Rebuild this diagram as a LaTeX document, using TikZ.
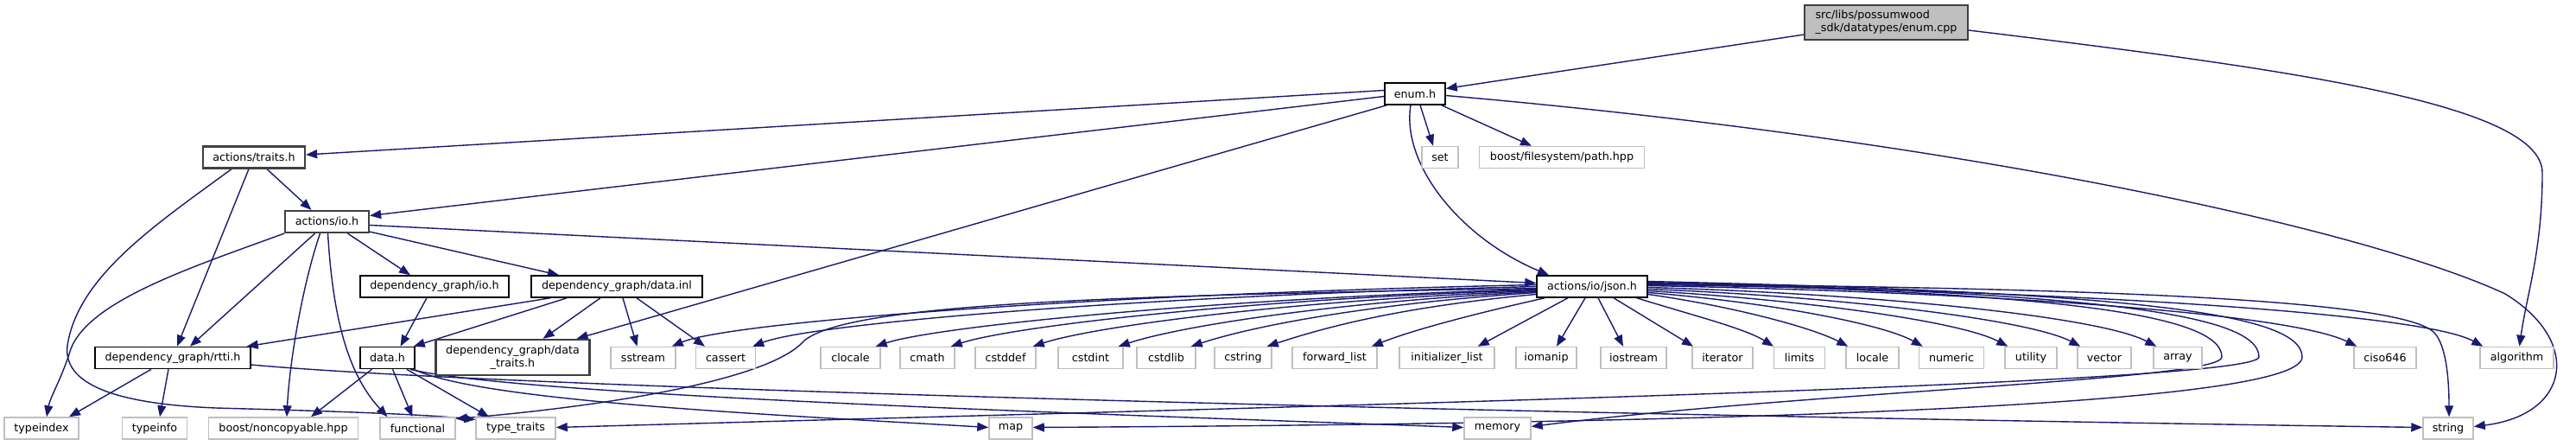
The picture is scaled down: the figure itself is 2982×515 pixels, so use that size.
\documentclass[tikz,border=0pt]{standalone}
\usepackage{fontspec}
\setmainfont{DejaVu Sans}
\usetikzlibrary{arrows.meta,calc}
\definecolor{edgecol}{HTML}{191970}
\definecolor{leafgray}{HTML}{BFBFBF}
\definecolor{rootgray}{HTML}{BFBFBF}
\definecolor{darkborder}{HTML}{404040}
\pgfdeclarelayer{bg}
\pgfsetlayers{bg,main}
\begin{document}
\begin{tikzpicture}[x=1pt,y=-1pt,
  every node/.style={font=\fontsize{12.7}{15}\selectfont, inner sep=0pt, minimum height=25pt, fill=white},
  inc/.style={draw=black, line width=1.5pt},
  incd/.style={draw=darkborder, line width=2.2pt},
  leaf/.style={draw=leafgray, line width=1.5pt},
  root/.style={draw=darkborder, fill=rootgray, line width=1.8pt, align=left, minimum height=40pt},
  edge/.style={draw=edgecol, line width=1.4pt, -{Triangle[length=13pt,width=10pt]}}]
\useasboundingbox (0,0) rectangle (2982,515);
% nodes
\node[root, minimum width=189pt] (enumcpp) at (2183.5,26) {src/libs/possumwood\\\_sdk/datatypes/enum.cpp};
\node[inc, minimum width=70pt] (enumh) at (1638,108.5) {enum.h};
\node[leaf, minimum width=42pt] (set) at (1667,182) {set};
\node[leaf, minimum width=191pt] (path) at (1808,182) {boost/filesystem/path.hpp};
\node[incd, minimum width=118pt] (traits) at (294,182) {actions/traits.h};
\node[incd, minimum width=97pt] (io) at (378.5,256.5) {actions/io.h};
\node[inc, minimum width=172pt] (dgio) at (503,331.5) {dependency\_graph/io.h};
\node[inc, minimum width=198pt] (datainl) at (714,331.5) {dependency\_graph/data.inl};
\node[inc, minimum width=128pt] (json) at (1843,331.5) {actions/io/json.h};
\node[inc, minimum width=180pt] (rtti) at (200,414) {dependency\_graph/rtti.h};
\node[inc, minimum width=63pt] (datah) at (448.5,414) {data.h};
\node[incd, minimum width=178pt, minimum height=41pt, align=center] (dtraits) at (593.5,413.5) {dependency\_graph/data\\\_traits.h};
% second row leaves
\node[leaf, minimum width=75pt] (sstream) at (744.5,414) {sstream};
\node[leaf, minimum width=69pt] (cassert) at (840,414) {cassert};
\node[leaf, minimum width=69pt] (clocale) at (984.5,414) {clocale};
\node[leaf, minimum width=63pt] (cmath) at (1073.5,414) {cmath};
\node[leaf, minimum width=70pt] (cstddef) at (1164,414) {cstddef};
\node[leaf, minimum width=75pt] (cstdint) at (1262.5,414) {cstdint};
\node[leaf, minimum width=68pt] (cstdlib) at (1350,414) {cstdlib};
\node[leaf, minimum width=66pt] (cstring) at (1439,414) {cstring};
\node[leaf, minimum width=98pt] (fwdlist) at (1545,414) {forward\_list};
\node[leaf, minimum width=110pt] (initlist) at (1675,414) {initializer\_list};
\node[leaf, minimum width=70pt] (iomanip) at (1790,414) {iomanip};
\node[leaf, minimum width=76pt] (iostream) at (1891,414) {iostream};
\node[leaf, minimum width=70pt] (iterator) at (1994,414) {iterator};
\node[leaf, minimum width=59pt] (limits) at (2083,414) {limits};
\node[leaf, minimum width=61pt] (locale) at (2167.5,414) {locale};
\node[leaf, minimum width=75pt] (numeric) at (2259,414) {numeric};
\node[leaf, minimum width=60pt] (utility) at (2351,414) {utility};
\node[leaf, minimum width=62pt] (vector) at (2436,414) {vector};
\node[leaf, minimum width=56pt] (array) at (2521,414) {array};
\node[leaf, minimum width=72pt] (ciso) at (2761,414) {ciso646};
\node[leaf, minimum width=85pt] (algorithm) at (2913.5,414) {algorithm};
% bottom row leaves
\node[leaf, minimum width=86pt] (typeindex) at (48,495.5) {typeindex};
\node[leaf, minimum width=75pt] (typeinfo) at (179,495.5) {typeinfo};
\node[leaf, minimum width=173pt] (noncopy) at (328,495.5) {boost/noncopyable.hpp};
\node[leaf, minimum width=87pt] (functional) at (483.5,495.5) {functional};
\node[leaf, minimum width=92pt] (typetraits) at (597,495.5) {type\_traits};
\node[leaf, minimum width=50pt] (map) at (1170,495.5) {map};
\node[leaf, minimum width=77pt] (memory) at (1733.5,495.5) {memory};
\node[leaf, minimum width=58pt] (string) at (2834,495.5) {string};

\begin{pgfonlayer}{bg}
% enum.cpp
\draw[edge] ([yshift=-14pt]enumcpp.west) -- ([yshift=6pt]enumh.east);
\draw[edge] ([yshift=-9pt]enumcpp.east) .. controls (2650,80) and (2943,120) .. (2943,200)
  .. controls (2943,290) and (2925,340) .. ([xshift=3pt]algorithm.north);
% enum.h
\draw[edge] ([yshift=4pt]enumh.west) -- ([yshift=3pt]traits.east);
\draw[edge] ([yshift=-3pt]enumh.west) -- ([yshift=7pt]io.east);
\draw[edge] ([xshift=3pt]enumh.south west) -- ([xshift=-16pt]dtraits.north east);
\draw[edge] ([xshift=6pt]enumh.south) -- ([xshift=-8pt]set.north);
\draw[edge] ([xshift=-5pt]enumh.south east) -- ([xshift=-35pt]path.north);
\draw[edge] ([xshift=-5pt]enumh.south) .. controls (1622,190) and (1690,275) .. ([xshift=-50pt]json.north);
\draw[edge] ([yshift=-2pt]enumh.east) .. controls (2300,165) and (2750,270) .. (2900,340)
  .. controls (2990,395) and (2975,480) .. ([yshift=2pt]string.east);
% actions/traits.h
\draw[edge] ([xshift=15pt]traits.south) -- ([xshift=-18pt]io.north);
\draw[edge] ([xshift=-6pt]traits.south) -- ([xshift=5pt]rtti.north);
\draw[edge] ([xshift=-26pt]traits.south) .. controls (180,260) and (90,320) .. (78,400)
  .. controls (72,450) and (150,468) .. (250,472)
  .. controls (400,476) and (500,480) .. ([yshift=10pt]typetraits.west);
% actions/io.h
\draw[edge] (io.south west) .. controls (220,310) and (95,350) .. (80,410)
  .. controls (70,440) and (58,460) .. ([xshift=6pt]typeindex.north);
\draw[edge] ([xshift=-14pt]io.south) -- ([xshift=20pt]rtti.north);
\draw[edge] ([xshift=-8pt]io.south) .. controls (350,330) and (335,420) .. ([xshift=4pt]noncopy.north);
\draw[edge] ([xshift=1pt]io.south) .. controls (385,360) and (400,430) .. ([xshift=-35pt]functional.north);
\draw[edge] ([xshift=24pt]io.south) -- ([xshift=-28pt]dgio.north);
\draw[edge] ([yshift=2pt]io.south east) -- ([xshift=-67pt]datainl.north);
\draw[edge] ([yshift=-4pt]io.east) -- ([yshift=4pt]json.west);
% dependency_graph/io.h
\draw[edge] ([xshift=-9pt]dgio.south) -- ([xshift=15pt]datah.north);
% dependency_graph/data.inl
\draw[edge] ([xshift=23pt]datainl.south west) -- ([xshift=-5pt]rtti.north east);
\draw[edge] ([xshift=42pt]datainl.south west) -- ([xshift=-2pt]datah.north east);
\draw[edge] ([xshift=-19pt]datainl.south) -- ([xshift=-55pt]dtraits.north east);
\draw[edge] ([xshift=7pt]datainl.south) -- ([xshift=-7pt]sstream.north);
\draw[edge] ([xshift=23pt]datainl.south) -- ([xshift=-24pt]cassert.north);
% dependency_graph/rtti.h
\draw[edge] ([xshift=-25pt]rtti.south) -- ([xshift=32pt]typeindex.north);
\draw[edge] ([xshift=-5pt]rtti.south) -- ([xshift=6pt]typeinfo.north);
\draw[edge] ([yshift=-8pt]rtti.east) .. controls (600,450) and (1800,480) .. ([yshift=1pt]string.west);
% data.h
\draw[edge] ([xshift=-18pt]datah.south) -- ([xshift=32pt]noncopy.north);
\draw[edge] ([xshift=6pt]datah.south) -- ([xshift=-6pt]functional.north);
\draw[edge] ([xshift=-10pt]datah.south east) -- ([xshift=-31pt]typetraits.north);
\draw[edge] ([xshift=-6pt]datah.south east) .. controls (600,458) and (1300,480) .. ([yshift=1pt]memory.west);
\draw[edge] ([xshift=-2pt]datah.south east) .. controls (560,465) and (900,480) .. ([yshift=1pt]map.west);
% actions/io/json.h -- left fan
\draw[edge] ([yshift=2pt]json.west) .. controls (1277,340) and (846,372) .. ([xshift=-5pt]sstream.north east);
\draw[edge] ([yshift=0pt]json.west) .. controls (1324,342) and (940,374) .. ([xshift=-4pt]cassert.north east);
\draw[edge] ([yshift=-2pt]json.west) .. controls (1300,342) and (980,350) .. (930,395)
  .. controls (890,440) and (700,470) .. ([yshift=11pt]functional.east);
\draw[edge] ([yshift=-3pt]json.west) .. controls (1396,346) and (1083,378) .. ([xshift=-6pt]clocale.north east);
\draw[edge] ([yshift=-4pt]json.west) .. controls (1440,346) and (1170,378) .. ([xshift=-5pt]cmath.north east);
\draw[edge] ([yshift=-5pt]json.west) .. controls (1487,348) and (1265,378) .. ([xshift=-4pt]cstddef.north east);
\draw[edge] ([yshift=-6pt]json.west) .. controls (1536,350) and (1364,378) .. ([xshift=-6pt]cstdint.north east);
\draw[edge] ([yshift=-7pt]json.west) .. controls (1578,352) and (1448,378) .. ([xshift=-6pt]cstdlib.north east);
\draw[edge] ([yshift=-9pt]json.west) .. controls (1622,355) and (1536,378) .. ([xshift=-6pt]cstring.north east);
\draw[edge] ([xshift=10pt]json.south west) .. controls (1720,360) and (1640,380) .. ([xshift=-7pt]fwdlist.north east);
\draw[edge] ([xshift=-28pt]json.south) -- ([xshift=-20pt]initlist.north east);
% actions/io/json.h -- right fan
\draw[edge] ([xshift=-8pt]json.south) -- ([xshift=12pt]iomanip.north);
\draw[edge] ([xshift=7pt]json.south) -- ([xshift=-12pt]iostream.north);
\draw[edge] ([xshift=25pt]json.south) -- ([xshift=-34pt]iterator.north);
\draw[edge] ([xshift=-13pt]json.south east) .. controls (1960,365) and (2020,380) .. ([xshift=-30pt]limits.north);
\draw[edge] ([yshift=-9pt]json.east) .. controls (2010,355) and (2100,380) .. ([xshift=3pt]locale.north west);
\draw[edge] ([yshift=-7pt]json.east) .. controls (2050,350) and (2180,375) .. ([xshift=5pt]numeric.north west);
\draw[edge] ([yshift=-5pt]json.east) .. controls (2090,347) and (2270,372) .. ([xshift=4pt]utility.north west);
\draw[edge] ([yshift=-3pt]json.east) .. controls (2130,343) and (2350,370) .. ([xshift=4pt]vector.north west);
\draw[edge] ([yshift=-1pt]json.east) .. controls (2170,340) and (2430,366) .. ([xshift=4pt]array.north west);
\draw[edge] ([yshift=1pt]json.east) .. controls (2300,338) and (2650,362) .. ([xshift=4pt]ciso.north west);
\draw[edge] ([yshift=2pt]json.east) .. controls (2350,335) and (2800,360) .. ([xshift=4pt]algorithm.north west);
\draw[edge] ([yshift=3pt]json.east) .. controls (2400,333) and (2780,345) .. (2818,385)
  .. controls (2832,400) and (2835,440) .. ([xshift=1pt]string.north);
\draw[edge] ([yshift=4pt]json.east) .. controls (2350,338) and (2572,360) .. (2572,413)
  .. controls (2572,440) and (2100,452) .. ([yshift=2pt]memory.east);
\draw[edge] ([yshift=5pt]json.east) .. controls (2400,338) and (2615,360) .. (2615,413)
  .. controls (2615,445) and (1500,470) .. ([yshift=1pt]typetraits.east);
\draw[edge] ([yshift=6pt]json.east) .. controls (2450,338) and (2665,360) .. (2665,413)
  .. controls (2665,470) and (2000,490) .. ([yshift=1pt]map.east);
\end{pgfonlayer}
\end{tikzpicture}
\end{document}
